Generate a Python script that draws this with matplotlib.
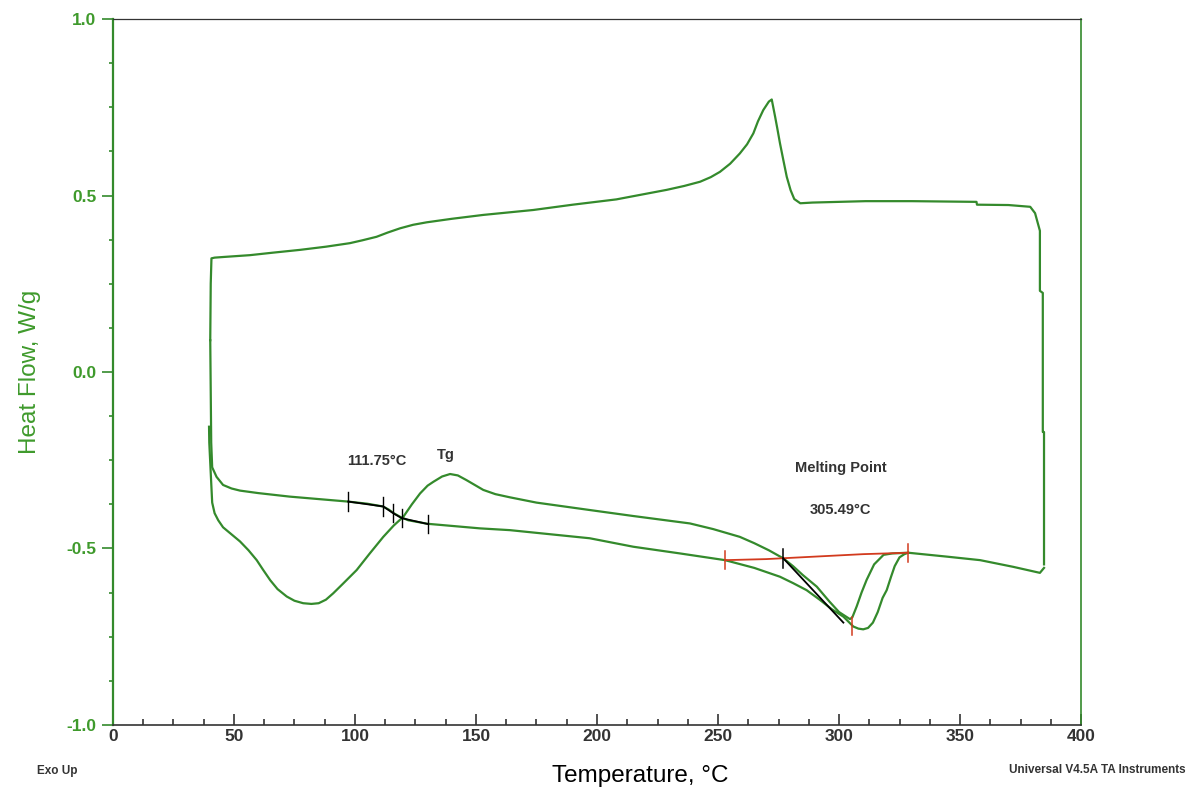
import matplotlib
matplotlib.use("Agg")
import matplotlib.pyplot as plt
from matplotlib.ticker import MultipleLocator, FormatStrFormatter

# first heating run
h1_temp = [39.7, 39.8, 40.5, 41.0, 42.0, 43.5, 45.5, 49, 52.5, 56, 59.4, 62, 65, 68,
           71.8, 75, 78.6, 82, 85, 88, 91, 95, 100.7, 106, 111.7, 116, 120, 123.5,
           126.9, 130, 132.4, 136, 139.3, 142.5, 146, 149.5, 153, 158, 164, 175, 197,
           215, 238.4, 248, 259, 265, 271, 277, 281, 285, 290.8, 296, 300, 304.5,
           305.5, 307.3, 309.3, 311.4, 314.5, 318.4, 322, 328.6, 344.5, 358.3, 372,
           383, 384.7]
h1_flow = [-0.155, -0.20, -0.30, -0.37, -0.40, -0.42, -0.44, -0.46, -0.48, -0.505,
           -0.533, -0.56, -0.59, -0.615, -0.636, -0.648, -0.655, -0.657, -0.655,
           -0.645, -0.627, -0.60, -0.561, -0.515, -0.467, -0.435, -0.41, -0.375,
           -0.344, -0.322, -0.311, -0.296, -0.289, -0.293, -0.306, -0.32, -0.334,
           -0.346, -0.355, -0.37, -0.391, -0.408, -0.429, -0.445, -0.467, -0.485,
           -0.505, -0.528, -0.55, -0.575, -0.608, -0.65, -0.68, -0.70, -0.695,
           -0.664, -0.625, -0.589, -0.545, -0.518, -0.514, -0.512, -0.523, -0.533,
           -0.552, -0.569, -0.555]

# cooling run (right to left)
cool_temp = [384.7, 384.7, 384.2, 384.2, 383.0, 383.0, 382.2, 381, 379, 370, 357,
             356.8, 330, 311, 289, 284, 281.5, 280, 278.4, 277, 275.6, 274.5, 273.6,
             272.2, 271, 268.7, 266.5, 264.6, 262, 259, 255, 250.8, 247, 242.6, 236,
             228.8, 218, 208, 190, 173.7, 153, 140, 129.6, 124, 118.6, 113.5, 108.9,
             103, 97.9, 88, 77.3, 66, 56.6, 46, 42, 40.7, 40.4, 40.2]
cool_flow = [-0.545, -0.17, -0.17, 0.224, 0.23, 0.40, 0.42, 0.45, 0.468, 0.473,
             0.474, 0.482, 0.484, 0.484, 0.48, 0.478, 0.49, 0.515, 0.553, 0.60,
             0.648, 0.69, 0.723, 0.772, 0.766, 0.742, 0.71, 0.676, 0.645, 0.619,
             0.59, 0.567, 0.552, 0.539, 0.527, 0.516, 0.502, 0.489, 0.474, 0.459,
             0.445, 0.434, 0.424, 0.417, 0.407, 0.395, 0.383, 0.373, 0.365, 0.355,
             0.346, 0.338, 0.331, 0.326, 0.324, 0.322, 0.25, 0.09]

# second heating run
h2_temp = [40.2, 40.6, 41.0, 42.8, 45.5, 49, 52.5, 60, 73, 85, 97, 105, 111.6, 114,
           116, 118.6, 122, 130, 151.7, 164, 197, 215, 234.3, 252.9, 265, 275.6, 281,
           286.6, 292, 297, 301.8, 305.9, 308, 310, 312, 314, 316, 318, 319.7, 321.5,
           323, 325, 327, 328.6]
h2_flow = [0.09, -0.20, -0.27, -0.297, -0.32, -0.33, -0.336, -0.343, -0.353, -0.36,
           -0.367, -0.373, -0.381, -0.39, -0.40, -0.41, -0.42, -0.43, -0.443, -0.448,
           -0.471, -0.495, -0.514, -0.533, -0.555, -0.58, -0.598, -0.618, -0.645,
           -0.672, -0.693, -0.721, -0.727, -0.729, -0.725, -0.71, -0.68, -0.64,
           -0.618, -0.58, -0.55, -0.525, -0.516, -0.512]

# glass transition analysis marks
tg_temp = [97.2, 111.7, 115.8, 119.3, 130.3]
tg_flow = [-0.367, -0.381, -0.400, -0.414, -0.431]

# melting analysis
base_temp = [253.0, 270, 290, 310, 328.6]
base_flow = [-0.533, -0.530, -0.523, -0.516, -0.512]
tang_temp = [277.0, 301.8]
tang_flow = [-0.528, -0.71]
peak_temp = 305.5
peak_flow = -0.72

green = "#348a2c"
label_green = "#3f9a2c"
dark = "#333333"
red = "#d23a1e"

plt.rcParams["font.family"] = ["Liberation Sans", "DejaVu Sans"]

fig = plt.figure(figsize=(11.94, 7.92), dpi=100)
ax = fig.add_axes([0.0946, 0.0846, 0.8108, 0.8914])

ax.plot(h1_temp, h1_flow, color=green, lw=1.6)
ax.plot(cool_temp, cool_flow, color=green, lw=1.6)
ax.plot(h2_temp, h2_flow, color=green, lw=1.6)

# Tg markers
ax.plot(tg_temp, tg_flow, color="black", lw=1.3)
for t, f in zip(tg_temp, tg_flow):
    ax.plot([t, t], [f - 0.026, f + 0.026], color="black", lw=1.0)

# melting baseline, tangent and peak
ax.plot(base_temp, base_flow, color=red, lw=1.3)
for t, f in ((base_temp[0], base_flow[0]), (base_temp[-1], base_flow[-1])):
    ax.plot([t, t], [f - 0.026, f + 0.026], color=red, lw=1.1)
ax.plot(tang_temp, tang_flow, color="black", lw=1.3)
ax.plot([tang_temp[0]] * 2, [tang_flow[0] - 0.026, tang_flow[0] + 0.026],
        color="black", lw=1.1)
ax.plot([peak_temp, peak_temp], [peak_flow - 0.026, peak_flow + 0.026],
        color=red, lw=1.1)

txt = dict(color=dark, fontsize=10.5, fontweight="bold", ha="center", va="center")
ax.text(109, -0.252, "111.75°C", **txt)
ax.text(137.6, -0.235, "Tg", **txt)
ax.text(300.8, -0.272, "Melting Point", **txt)
ax.text(300.4, -0.391, "305.49°C", **txt)

ax.set_xlim(0, 400)
ax.set_ylim(-1.0, 1.0)
ax.xaxis.set_major_locator(MultipleLocator(50))
ax.xaxis.set_minor_locator(MultipleLocator(12.5))
ax.yaxis.set_major_locator(MultipleLocator(0.5))
ax.yaxis.set_minor_locator(MultipleLocator(0.125))
ax.yaxis.set_major_formatter(FormatStrFormatter("%.1f"))

ax.tick_params(axis="x", which="major", direction="in", length=8, width=1.2,
               colors=dark, labelsize=12.5, pad=3)
ax.tick_params(axis="x", which="minor", direction="in", length=4, width=1.2,
               colors=dark)
ax.tick_params(axis="y", which="major", direction="out", length=8, width=1.2,
               colors=green, labelcolor=label_green, labelsize=12.5, pad=4)
ax.tick_params(axis="y", which="minor", direction="out", length=3, width=1.2,
               colors=green)
for lab in ax.get_xticklabels() + ax.get_yticklabels():
    lab.set_fontweight("bold")

ax.spines["left"].set_color(green)
ax.spines["left"].set_linewidth(1.6)
ax.spines["right"].set_color(green)
ax.spines["right"].set_linewidth(1.2)
ax.spines["top"].set_color(dark)
ax.spines["top"].set_linewidth(0.9)
ax.spines["bottom"].set_color(dark)
ax.spines["bottom"].set_linewidth(1.2)

fig.text(640 / 1194, 1 - 776 / 792, "Temperature, °C", color="black",
         fontsize=17.5, ha="center", va="center")
fig.text(30 / 1194, 1 - 372 / 792, "Heat Flow, W/g", color=label_green,
         fontsize=17.5, ha="center", va="center", rotation=90)
fig.text(37 / 1194, 1 - 771 / 792, "Exo Up", color=dark, fontsize=8.5,
         fontweight="bold", ha="left", va="center")
fig.text(1186 / 1194, 1 - 770 / 792, "Universal V4.5A TA Instruments", color=dark,
         fontsize=8.5, fontweight="bold", ha="right", va="center")

fig.savefig("out.png", dpi=100)
